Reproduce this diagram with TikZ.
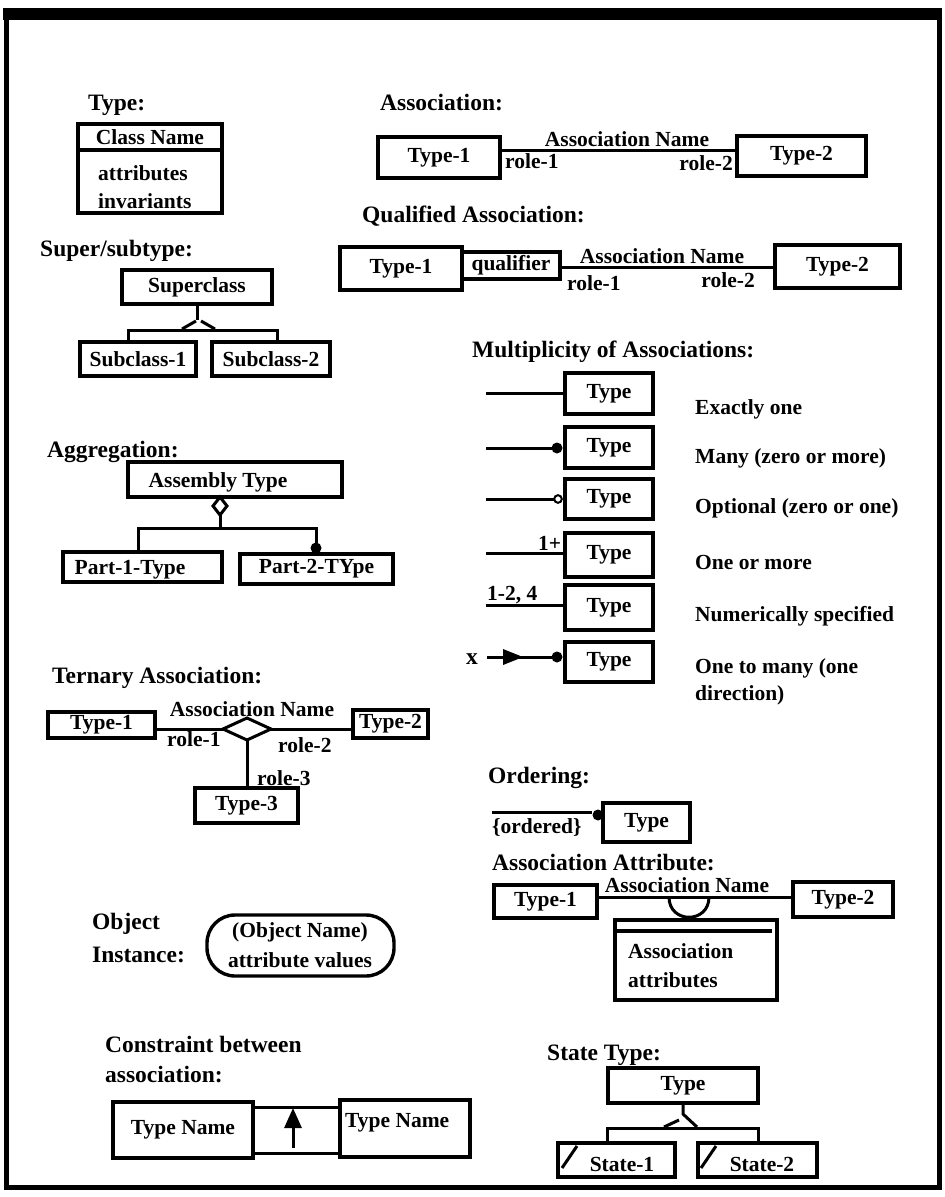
\documentclass[tikz,border=0pt]{standalone}
\usepackage{fontspec}
\setmainfont{Liberation Serif}
\usetikzlibrary{arrows.meta,calc}
\newcommand\labfont{\fontsize{21.5}{24}\selectfont\bfseries}
\newcommand\ttlfont{\fontsize{23.5}{26}\selectfont\bfseries}
\tikzset{
  tbox/.style={draw, line width=3.4pt, inner sep=0pt, font=\labfont},
  ln/.style={line width=3pt},
  ttl/.style={font=\ttlfont, inner sep=0pt},
  lbl/.style={font=\labfont, inner sep=0pt},
}
\newcommand\bx[6]{\node[tbox, minimum width={(#4-#2)*1pt}, minimum height={(#5-#3)*1pt}] (#1) at ({(#2+#4)/2},{(#3+#5)/2}) {#6};}
\begin{document}
\begin{tikzpicture}[x=1pt,y=-1pt]
\useasboundingbox (0,0) rectangle (945,1197);
% frame
\draw[line width=5pt] (6,14) rectangle (939,1187);
\fill (3,8) rectangle (942,20);

% ---- Type
\node[ttl,anchor=base west] (tyT) at (88,110) {Type:};
\bx{cls}{78}{124}{222}{213}{}
\node[lbl,anchor=base] (clsn) at (150,144) {Class Name};
\draw[line width=3.4pt] (cls.west |- 0,150) -- (cls.east |- 0,150);
\node[lbl,anchor=base west] (attr) at (98,180) {attributes};
\node[lbl,anchor=base west] (inv) at (98,208) {invariants};

% ---- Association
\node[ttl,anchor=base west] (asT) at (380,110) {Association:};
\bx{a1}{378}{137}{500}{178}{Type-1}
\bx{a2}{737}{136}{866}{176}{Type-2}
\draw[ln] (a1.east |- 0,150) -- (a2.west |- 0,150);
\node[lbl,anchor=base] (an) at (627,146) {Association Name};
\node[lbl,anchor=base west] (r1) at (505,168) {role-1};
\node[lbl,anchor=base east] (r2) at (733,170) {role-2};

% ---- Qualified association
\node[ttl,anchor=base west] (qT) at (362,222) {Qualified Association:};
\bx{q1}{340}{247}{462}{290}{Type-1}
\bx{qq}{462}{252}{560}{279}{qualifier}
\bx{q2}{775}{245}{900}{288}{Type-2}
\draw[ln] (qq.east |- 0,267) -- (q2.west |- 0,267);
\node[lbl,anchor=base] (qan) at (662,263) {Association Name};
\node[lbl,anchor=base west] (qr1) at (567,290) {role-1};
\node[lbl,anchor=base east] (qr2) at (755,287) {role-2};

% ---- Super/subtype
\node[ttl,anchor=base west] (ssT) at (40,256) {Super/subtype:};
\bx{sup}{122}{270}{272}{304}{Superclass}
\bx{sb1}{80}{342}{196}{376}{Subclass-1}
\bx{sb2}{212}{342}{330}{376}{Subclass-2}
\draw[ln] (sup.south) -- ++(0,14);
\draw[ln] (182,329) -- (196,321) (201,321) -- (215,329);
\draw[ln] (sb1.north -| 128,0) -- (128,330) -- (277,330) -- (sb2.north -| 277,0);

% ---- Aggregation
\node[ttl,anchor=base west] (agT) at (47,457) {Aggregation:};
\bx{asm}{128}{462}{342}{497}{}
\node[lbl,anchor=base] (asmt) at (218,487) {Assembly Type};
\draw[ln, fill=white] (220,497) -- (227,506) -- (220,515) -- (213,506) -- cycle;
\draw[ln] (220,515) -- (220,528);
\bx{p1}{63}{552}{222}{582}{}
\node[lbl,anchor=base] (p1t) at (130,574) {Part-1-Type};
\bx{p2}{240}{554}{393}{584}{Part-2-TYpe}
\draw[ln] (p1.north -| 138,0) -- (138,528) -- (316,528) -- (316,546);
\fill (316,548) circle[radius=5.5pt];

% ---- Ternary association
\node[ttl,anchor=base west] (teT) at (52,683) {Ternary Association:};
\bx{t1}{48}{712}{155}{738}{Type-1}
\bx{t2}{353}{710}{428}{738}{Type-2}
\bx{t3}{195}{788}{298}{823}{Type-3}
\coordinate (dl) at (223,729);
\coordinate (dr) at (271,729);
\coordinate (dt) at (247,718);
\coordinate (db) at (247,740);
\draw[ln] (dl) -- (dt) -- (dr) -- (db) -- cycle;
\draw[ln] (t1.east |- dl) -- (dl);
\draw[ln] (dr) -- (t2.west |- dr);
\draw[ln] (db) -- (db |- t3.north);
\node[lbl,anchor=base] (tan) at (252,716) {Association Name};
\node[lbl,anchor=base west] (tr1) at (167,746) {role-1};
\node[lbl,anchor=base west] (tr2) at (278,752) {role-2};
\node[lbl,anchor=base west] (tr3) at (257,785) {role-3};

% ---- Multiplicity
\node[ttl,anchor=base west] (mT) at (472,357) {Multiplicity of Associations:};
\bx{m0}{565}{373}{653}{414}{Type}
\bx{m1}{565}{427}{653}{468}{Type}
\bx{m2}{565}{479}{653}{519}{Type}
\bx{m3}{565}{533}{653}{577}{Type}
\bx{m4}{565}{585}{653}{630}{Type}
\bx{m5}{565}{642}{653}{682}{Type}
\draw[ln] (486,393) -- (m0.west |- 0,393);
\draw[ln] (486,448) -- (557,448);
\fill (557,448) circle[radius=5.5pt];
\draw[ln] (486,499) -- (554,499);
\draw[line width=2pt, fill=white] (558,499) circle[radius=3.8pt];
\draw[ln] (486,553) -- (m3.west |- 0,553);
\node[lbl,anchor=base west] (m3l) at (538,550) {1+};
\draw[ln] (486,605) -- (m4.west |- 0,605);
\node[lbl,anchor=base west] (m4l) at (487,600) {1-2, 4};
\node[ttl,anchor=base] (mx) at (472,664) {x};
\draw[ln] (487,657) -- (557,657);
\fill (503,649) -- (523,657) -- (503,665) -- cycle;
\fill (557,657) circle[radius=5.5pt];
\node[lbl,anchor=base west] (d0) at (695,414) {Exactly one};
\node[lbl,anchor=base west] (d1) at (695,463) {Many (zero or more)};
\node[lbl,anchor=base west] (d2) at (695,513) {Optional (zero or one)};
\node[lbl,anchor=base west] (d3) at (695,569) {One or more};
\node[lbl,anchor=base west] (d4) at (695,621) {Numerically specified};
\node[lbl,anchor=base west] (d5) at (695,673) {One to many (one};
\node[lbl,anchor=base west] (d6) at (695,700) {direction)};

% ---- Ordering
\node[ttl,anchor=base west] (oT) at (488,783) {Ordering:};
\bx{ob}{603}{803}{690}{842}{Type}
\node[lbl,anchor=base west] (ord) at (492,833) {\{ordered\}};
\draw[ln] (492,812) -- (592,812);
\fill (598,815) circle[radius=5.5pt];

% ---- Association attribute
\node[ttl,anchor=base west] (aaT) at (492,870) {Association Attribute:};
\bx{aa1}{494}{885}{597}{918}{Type-1}
\bx{aa2}{793}{882}{893}{917}{Type-2}
\draw[ln] (aa1.east |- 0,897) -- (aa2.west |- 0,897);
\node[lbl,anchor=base] (aan) at (687,892) {Association Name};
\draw[ln] (669,897) .. controls (669,924) and (709,924) .. (709,897);
\bx{aab}{615}{920}{777}{1000}{}
\draw[line width=3.4pt] (aab.west |- 0,931) -- (772,931);
\node[lbl,anchor=base west] (aat1) at (628,958) {Association};
\node[lbl,anchor=base west] (aat2) at (628,987) {attributes};

% ---- Object instance
\node[ttl,anchor=base west] (obT1) at (92,929) {Object};
\node[ttl,anchor=base west] (obT2) at (92,962) {Instance:};
\node[draw, line width=3.4pt, rounded corners=28pt, minimum width=187pt, minimum height=61pt, inner sep=0pt] (obj) at (300.5,945.5) {};
\node[lbl,anchor=base] (objn) at (300,937) {(Object Name)};
\node[lbl,anchor=base] (objv) at (300,967) {attribute values};

% ---- Constraint
\node[ttl,anchor=base west] (cT1) at (105,1052) {Constraint between};
\node[ttl,anchor=base west] (cT2) at (105,1082) {association:};
\bx{c1}{113}{1102}{253}{1158}{Type Name}
\bx{c2}{340}{1100}{470}{1157}{}
\node[lbl,anchor=base west] (c2t) at (345,1127) {Type Name};
\draw[ln] (c1.east |- 0,1107) -- (c2.west |- 0,1107);
\draw[ln] (c1.east |- 0,1153) -- (c2.west |- 0,1153);
\draw[ln, -{Triangle[length=20pt,width=17pt]}] (293,1148) -- (293,1108);

% ---- State type
\node[ttl,anchor=base west] (stT) at (547,1060) {State Type:};
\bx{st}{608}{1068}{758}{1103}{Type}
\draw[ln] (st.south -| 683,0) -- (683,1114) -- (697,1127);
\draw[ln] (664,1127) -- (679,1120);
\bx{s1}{558}{1143}{675}{1177}{}
\bx{s2}{698}{1143}{817}{1177}{}
\draw[ln] (s1.north -| 607,0) -- (607,1128) -- (758,1128) -- (s2.north -| 758,0);
\node[lbl,anchor=base] (s1t) at (622,1171) {State-1};
\node[lbl,anchor=base] (s2t) at (762,1171) {State-2};
\draw[ln] (562,1168) -- (577,1146);
\draw[ln] (701,1168) -- (716,1146);
\end{tikzpicture}
\end{document}
